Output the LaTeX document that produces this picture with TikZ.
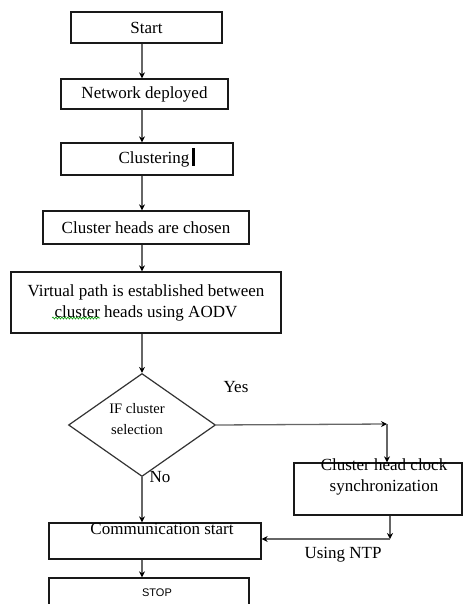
\documentclass[tikz,border=0pt]{standalone}
\usepackage{fontspec}
\setmainfont{Liberation Serif}
\newfontfamily\stopfont{Liberation Sans}
\usetikzlibrary{shapes.geometric,arrows.meta,decorations.pathmorphing}
\begin{document}
\begin{tikzpicture}[x=1pt,y=-1pt,
  box/.style={draw=black!90, line width=1.3pt, inner sep=0pt, align=center, font=\fontsize{17}{21}\selectfont},
  arr/.style={draw=black!60, line width=1.3pt, -{Stealth[length=6pt,width=6pt,black]}},
  lbl/.style={font=\fontsize{17}{21}\selectfont, inner sep=0pt, align=center}]
\clip (0,0) rectangle (463,604);
\fill[white] (0,0) rectangle (463,604);

\node[box, minimum width=151pt, minimum height=31pt] (start) at (146.5,27.5) {Start};
\node[box, minimum width=167pt, minimum height=30pt] (net) at (144.5,94) {Network deployed};
\node[box, minimum width=172pt, minimum height=32pt] (clu) at (147,159) {\hspace*{14pt}Clustering};
\node[box, minimum width=206pt, minimum height=33pt] (chs) at (146,227.5) {Cluster heads are chosen};
\node[box, minimum width=270pt, minimum height=61pt] (virt) at (146,302.5) {Virtual path is established between\\cluster heads using AODV};
\node[draw=black!80, line width=1.2pt, diamond, minimum width=147pt, minimum height=103pt, inner sep=0pt,
  label={[lbl, font=\fontsize{14.5}{21}\selectfont, xshift=-5pt, yshift=6pt]center:IF cluster\\selection}] (dec) at (142,425) {};
\node[box, minimum width=168pt, minimum height=52pt,
  label={[lbl, xshift=6pt, yshift=12pt]center:Cluster head clock\\synchronization}] (sync) at (378,489) {};
\node[box, minimum width=212pt, minimum height=36pt,
  label={[lbl, xshift=7pt, yshift=12pt]center:Communication start}] (comm) at (155,541) {};
\node[box, minimum width=200pt, minimum height=44pt,
  label={[lbl, font=\stopfont\fontsize{11}{13}\selectfont, xshift=8pt, yshift=7pt]center:STOP}] (stop) at (149,600) {};

\coordinate (cA) at (387,424);
\coordinate (cB) at (390,539);

\draw[arr] (start.south -| dec.north) -- (net.north -| dec.north);
\draw[arr] (net.south -| dec.north) -- (clu.north -| dec.north);
\draw[arr] (clu.south -| dec.north) -- (chs.north -| dec.north);
\draw[arr] (chs.south -| dec.north) -- (virt.north -| dec.north);
\draw[arr] (virt.south -| dec.north) -- (dec.north);
\draw[arr] (dec.east) -- (cA);
\draw[arr] (cA) -- (cA |- sync.north);
\draw[arr] (dec.south) -- (comm.north -| dec.south);
\draw[arr] (sync.south -| cB) -- (cB);
\draw[arr] (cB) -- (comm.east |- cB);
\draw[arr] (comm.south -| dec.south) -- (stop.north -| dec.south);

\node[lbl] (yes) at (236,387) {Yes};
\node[lbl] (no) at (160,477) {No};
\node[lbl] (ntp) at (343,555) {Using NTP};

\fill[black] (192,148) rectangle (195,166);
\draw[green!60!black, line width=0.6pt, decorate, decoration={snake, amplitude=1pt, segment length=3pt}] (52,318) -- (100,318);
\end{tikzpicture}
\end{document}
